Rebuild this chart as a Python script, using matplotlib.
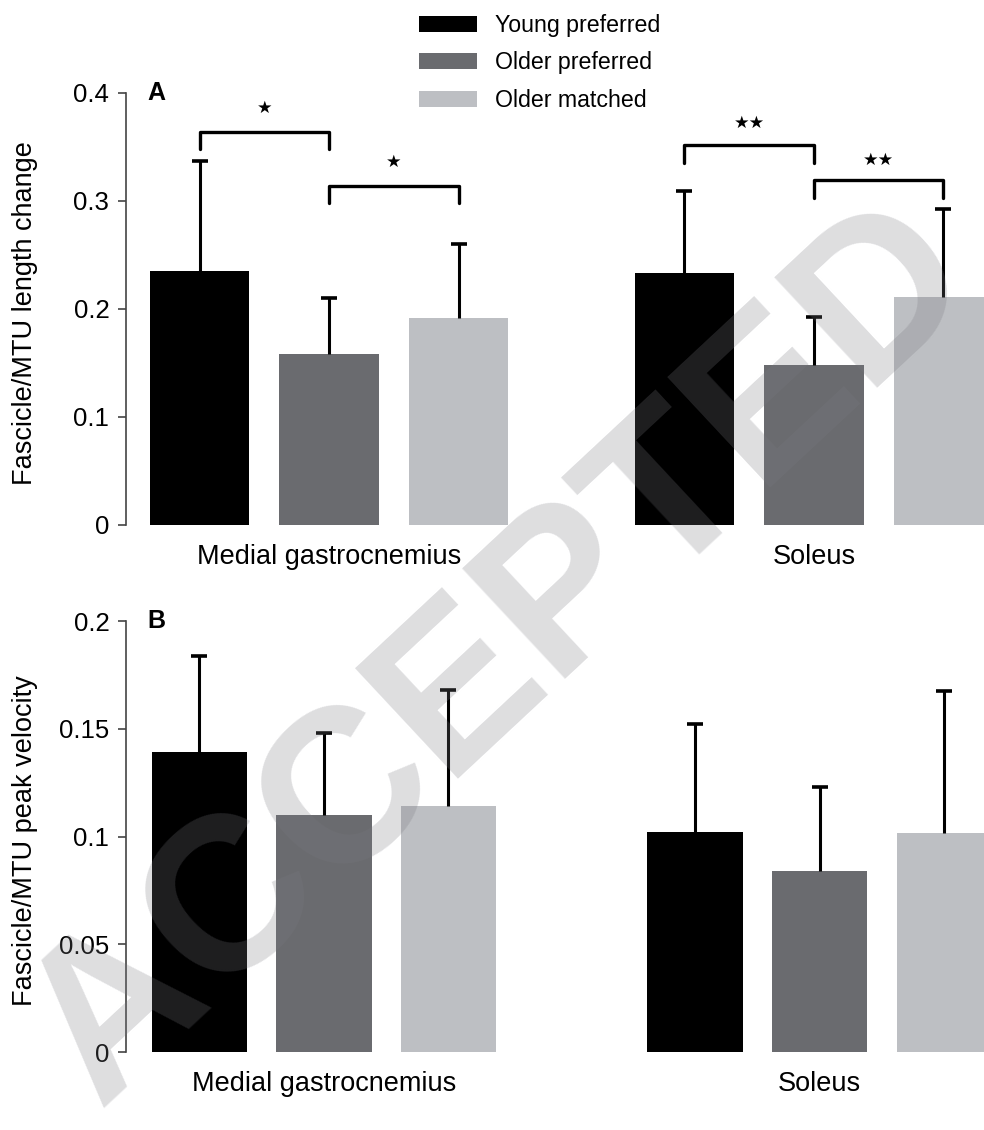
import matplotlib.pyplot as plt
from matplotlib.patches import Patch

plt.rcParams['font.family'] = ['Liberation Sans', 'DejaVu Sans']

# データ
groups = ['Young preferred', 'Older preferred', 'Older matched']
colors = ['#000000', '#6a6b6f', '#bdbfc3']
muscles = ['Medial gastrocnemius', 'Soleus']

# A: length change (MG, Soleus)
len_mean = [[0.235, 0.158, 0.192], [0.233, 0.148, 0.211]]
len_sd = [[0.102, 0.052, 0.068], [0.076, 0.045, 0.082]]
# B: peak velocity
vel_mean = [[0.139, 0.110, 0.114], [0.102, 0.084, 0.1016]]
vel_sd = [[0.045, 0.038, 0.054], [0.050, 0.039, 0.066]]

# significance brackets (muscle, group i, group j, bar y, leg y, label, label y)
sig = [(0, 0, 1, 0.364, 0.348, '★', 0.386),
       (0, 1, 2, 0.314, 0.298, '★', 0.336),
       (1, 0, 1, 0.352, 0.335, '★★', 0.372),
       (1, 1, 2, 0.319, 0.303, '★★', 0.338)]

fig = plt.figure(figsize=(9.84, 11.3), dpi=100)
axA = fig.add_axes([0.128, 0.5354, 0.872, 0.3823])
axB = fig.add_axes([0.128, 0.0690, 0.872, 0.3814])


def draw(ax, means, sds, gap, xlim, ylim, yticks, yticklabels, ylabel):
    width = 0.765
    for m in range(2):
        for g in range(3):
            x = m * gap + (g - 1)
            ax.bar(x, means[m][g], width, color=colors[g], zorder=2)
            eb = ax.errorbar(x, means[m][g], yerr=[[0], [sds[m][g]]], fmt='none',
                             ecolor='black', elinewidth=2.2, capsize=6,
                             capthick=2.6, zorder=3)
            eb[1][0].set_visible(False)  # 下側のキャップは不要
        ax.text(m * gap, -0.075 * ylim[1], muscles[m], ha='center', va='center',
                fontsize=19.5)
    ax.set_xlim(*xlim)
    ax.set_ylim(*ylim)
    ax.set_yticks(yticks)
    ax.set_yticklabels(yticklabels, fontsize=18.5)
    ax.set_xticks([])
    for s in ['top', 'right', 'bottom']:
        ax.spines[s].set_visible(False)
    ax.spines['left'].set_color('#444444')
    ax.spines['left'].set_linewidth(1.2)
    ax.tick_params(axis='y', length=6, width=1.2, color='#444444', pad=6)
    ax.set_ylabel(ylabel, fontsize=19.5)
    ax.yaxis.set_label_coords(-0.103, 0.49)
    ax.patch.set_alpha(0)


draw(axA, len_mean, len_sd, 3.745, (-1.568, 5.058), (0, 0.4),
     [0, 0.1, 0.2, 0.3, 0.4], ['0', '0.1', '0.2', '0.3', '0.4'],
     'Fascicle/MTU length change')
draw(axB, vel_mean, vel_sd, 3.98, (-1.59, 5.30), (0, 0.2),
     [0, 0.05, 0.1, 0.15, 0.2], ['0', '0.05', '0.1', '0.15', '0.2'],
     'Fascicle/MTU peak velocity')

for m, i, j, yb, yl, lab, ys in sig:
    x1 = m * 3.745 + (i - 1)
    x2 = m * 3.745 + (j - 1)
    axA.plot([x1, x1, x2, x2], [yl, yb, yb, yl], color='black', lw=2.4,
             solid_joinstyle='round', solid_capstyle='round', clip_on=False,
             zorder=4)
    axA.text((x1 + x2) / 2, ys, lab, ha='center', va='center', fontsize=12.5,
             family='DejaVu Sans')

axA.text(-1.40, 0.4, 'A', fontsize=18, fontweight='bold', va='center')
axB.text(-1.42, 0.2, 'B', fontsize=18, fontweight='bold', va='center')

handles = [Patch(facecolor=c, edgecolor='none') for c in colors]
fig.legend(handles, groups, loc='upper left', bbox_to_anchor=(0.405, 1.006),
           frameon=False, fontsize=16.7, handlelength=2.5, handleheight=0.7,
           labelspacing=0.62, handletextpad=0.75)

# watermark
fig.text(0.51, 0.42, 'ACCEPTED', rotation=43, fontsize=158, fontweight='bold',
         color='#7a7a80', alpha=0.25, ha='center', va='center', zorder=10)

fig.savefig('out.png', dpi=100)
